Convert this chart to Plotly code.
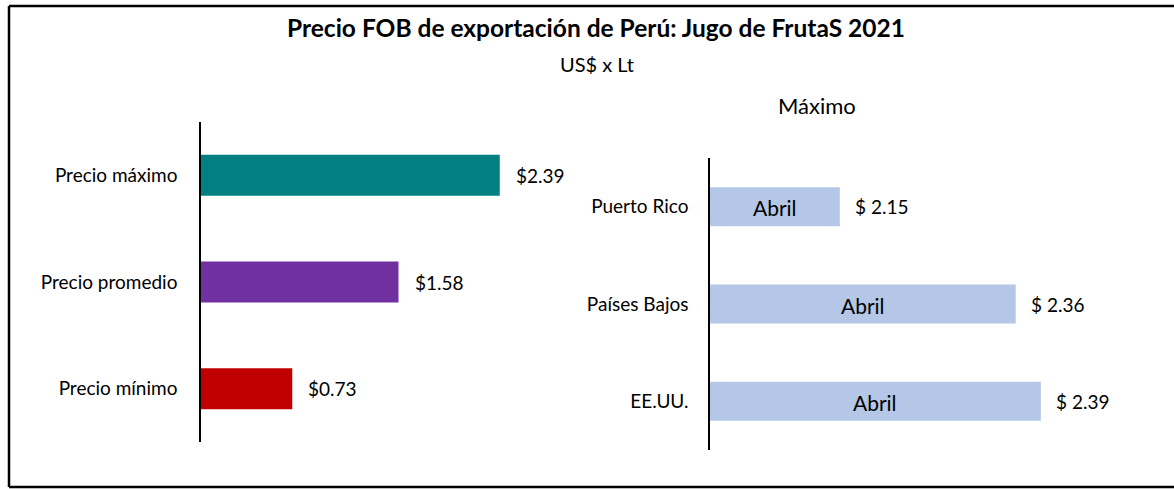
import plotly.graph_objects as go

W, H = 1174, 489

# Left chart data
price_labels = ["Precio máximo", "Precio promedio", "Precio mínimo"]
price_values = [2.39, 1.58, 0.73]
price_colors = ["#008080", "#7030A0", "#C00000"]

# Right chart data
countries = ["Puerto Rico", "Países Bajos", "EE.UU."]
country_values = [2.15, 2.36, 2.39]
country_months = ["Abril", "Abril", "Abril"]

title = "Precio FOB de exportación de Perú: Jugo de FrutaS 2021"
subtitle = "US$ x Lt"
right_title = "Máximo"

FONT = "Lato"

def px_x(p):
    return p / W

def px_y(p):
    return 1 - p / H

fig = go.Figure()

fig.add_trace(go.Bar(
    x=price_values, y=price_labels, orientation="h",
    marker=dict(color=price_colors, line=dict(width=0)),
    width=0.385, xaxis="x", yaxis="y", hoverinfo="skip",
))

fig.add_trace(go.Bar(
    x=country_values, y=countries, orientation="h",
    marker=dict(color="#B4C7E7", line=dict(width=0)),
    width=0.40, xaxis="x2", yaxis="y2", hoverinfo="skip",
))

r2_min, r2_max = 1.995, 2.495

annotations = []
for lab, v in zip(price_labels, price_values):
    annotations.append(dict(
        x=v, y=lab, xref="x", yref="y", text=f"${v:.2f}",
        showarrow=False, xanchor="left", xshift=14,
        font=dict(family=FONT, size=19, color="#000"),
    ))
for lab, v, m in zip(countries, country_values, country_months):
    annotations.append(dict(
        x=v, y=lab, xref="x2", yref="y2", text=f"$ {v:.2f}",
        showarrow=False, xanchor="left", xshift=13,
        font=dict(family=FONT, size=19, color="#000"),
    ))
    annotations.append(dict(
        x=(r2_min + v) / 2, y=lab, xref="x2", yref="y2", text=m,
        showarrow=False, xanchor="center", yshift=-1,
        font=dict(family=FONT, size=21, color="#000"),
    ))

annotations += [
    dict(x=px_x(596), y=px_y(27), xref="paper", yref="paper", text=f"<b>{title}</b>",
         showarrow=False, xanchor="center", yanchor="middle",
         font=dict(family=FONT, size=24.5, color="#000")),
    dict(x=px_x(597), y=px_y(64), xref="paper", yref="paper", text=subtitle,
         showarrow=False, xanchor="center", yanchor="middle",
         font=dict(family=FONT, size=20, color="#000")),
    dict(x=px_x(817), y=px_y(106), xref="paper", yref="paper", text=right_title,
         showarrow=False, xanchor="center", yanchor="middle",
         font=dict(family=FONT, size=22, color="#000")),
]

frame = dict(color="#000", width=2.5)
shapes = [
    dict(type="line", xref="paper", yref="paper", x0=px_x(9), x1=1, y0=px_y(6), y1=px_y(6), line=frame),
    dict(type="line", xref="paper", yref="paper", x0=px_x(9), x1=1, y0=px_y(487), y1=px_y(487), line=frame),
    dict(type="line", xref="paper", yref="paper", x0=px_x(9), x1=px_x(9), y0=px_y(6), y1=px_y(487), line=frame),
]

fig.update_layout(
    width=W, height=H,
    margin=dict(l=0, r=0, t=0, b=0),
    paper_bgcolor="white", plot_bgcolor="white",
    showlegend=False,
    font=dict(family=FONT, size=19, color="#000"),
    xaxis=dict(domain=[px_x(201), px_x(576)], range=[0, 3], visible=False, fixedrange=True),
    yaxis=dict(domain=[px_y(442), px_y(122)], anchor="x", categoryorder="array",
               categoryarray=price_labels[::-1], showline=True, linecolor="#000",
               linewidth=1.5, ticks="", ticklabelstandoff=18, showgrid=False,
               tickfont=dict(family=FONT, size=19, color="#000"), zeroline=False,
               fixedrange=True),
    xaxis2=dict(domain=[px_x(710), px_x(1128.75)], range=[r2_min, r2_max], visible=False,
                fixedrange=True, anchor="y2"),
    yaxis2=dict(domain=[px_y(450), px_y(158)], anchor="x2", categoryorder="array",
                categoryarray=countries[::-1], showline=True, linecolor="#000",
                linewidth=1.5, ticks="", ticklabelstandoff=16, showgrid=False,
                tickfont=dict(family=FONT, size=19, color="#000"), zeroline=False,
                fixedrange=True),
    annotations=annotations,
    shapes=shapes,
)

fig.write_html(
    "out.html", config={"displayModeBar": False},
    post_script=(
        "document.documentElement.style.overflow='hidden';"
        "document.body.style.margin='0';document.body.style.overflow='hidden';"
    ),
)
